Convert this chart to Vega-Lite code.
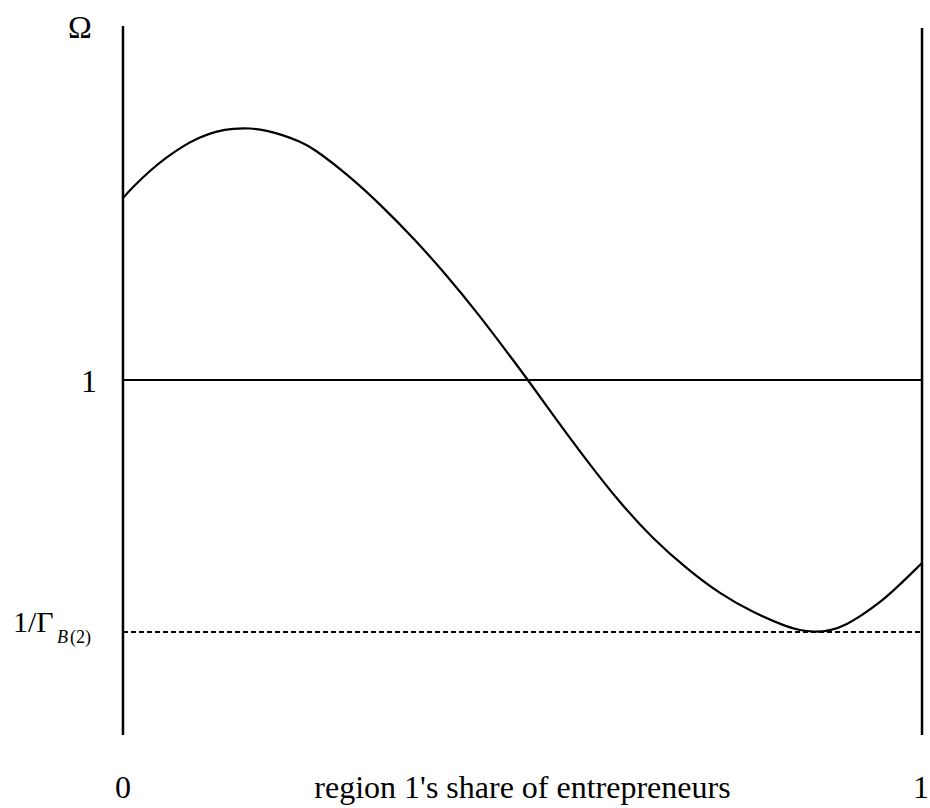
{
  "$schema": "https://vega.github.io/schema/vega-lite/v6.json",
  "width": 930,
  "height": 808,
  "padding": 0,
  "autosize": {"type": "none"},
  "background": "white",
  "config": {"view": {"stroke": null}},
  "datasets": {
    "curve": [
      {"share": 0.0, "omega": 1.28889},
      {"share": 0.01252, "omega": 1.30635},
      {"share": 0.03379, "omega": 1.33254},
      {"share": 0.05507, "omega": 1.35397},
      {"share": 0.07509, "omega": 1.37143},
      {"share": 0.09637, "omega": 1.38571},
      {"share": 0.11765, "omega": 1.39524},
      {"share": 0.13767, "omega": 1.39921},
      {"share": 0.15895, "omega": 1.4},
      {"share": 0.18023, "omega": 1.39603},
      {"share": 0.20025, "omega": 1.38889},
      {"share": 0.22153, "omega": 1.37857},
      {"share": 0.2378, "omega": 1.36825},
      {"share": 0.28035, "omega": 1.32698},
      {"share": 0.32165, "omega": 1.27937},
      {"share": 0.36295, "omega": 1.22619},
      {"share": 0.40551, "omega": 1.16587},
      {"share": 0.44681, "omega": 1.10159},
      {"share": 0.48811, "omega": 1.03175},
      {"share": 0.50688, "omega": 1.0},
      {"share": 0.53817, "omega": 0.94444},
      {"share": 0.58073, "omega": 0.87143},
      {"share": 0.62203, "omega": 0.80476},
      {"share": 0.66333, "omega": 0.74762},
      {"share": 0.70588, "omega": 0.7},
      {"share": 0.74718, "omega": 0.66032},
      {"share": 0.78849, "omega": 0.63095},
      {"share": 0.83104, "omega": 0.60794},
      {"share": 0.84731, "omega": 0.6027},
      {"share": 0.86358, "omega": 0.59985},
      {"share": 0.88486, "omega": 0.60159},
      {"share": 0.90613, "omega": 0.6119},
      {"share": 0.92616, "omega": 0.62778},
      {"share": 0.94743, "omega": 0.64683},
      {"share": 0.96871, "omega": 0.67063},
      {"share": 1.0, "omega": 0.70952}
    ],
    "verticals": [
      {"share": 0, "top": 1.5619, "bottom": 0.4365},
      {"share": 1, "top": 1.5587, "bottom": 0.4365}
    ],
    "levels": [
      {"name": "one", "start": 0, "end": 1, "omega": 1.0},
      {"name": "inverse gamma", "start": 0, "end": 1, "omega": 0.6}
    ],
    "labels": [
      {"text": "Ω", "share": -0.0538, "omega": 1.5429},
      {"text": "1", "share": -0.0426, "omega": 0.981},
      {"text": "0", "share": 0.0, "omega": 0.3365},
      {"text": "region 1's share of entrepreneurs", "share": 0.5, "omega": 0.3365},
      {"text": "1", "share": 0.9987, "omega": 0.3365}
    ],
    "gammalabel": [
      {"text": "1/Γ", "share": -0.1377, "omega": 0.6}
    ],
    "sublabelB": [
      {"text": "B", "share": -0.0826, "omega": 0.5825}
    ],
    "sublabel2": [
      {"text": "(2)", "share": -0.0663, "omega": 0.5825}
    ]
  },
  "layer": [
    {
      "data": {"name": "verticals"},
      "mark": {"type": "rule", "color": "black", "strokeWidth": 2.5},
      "encoding": {
        "x": {"field": "share", "type": "quantitative", "scale": {"domain": [-0.1539, 1.01], "nice": false, "zero": false}, "axis": null},
        "y": {"field": "top", "type": "quantitative", "scale": {"domain": [0.3206, 1.6032], "nice": false, "zero": false}, "axis": null},
        "y2": {"field": "bottom"}
      }
    },
    {
      "data": {"name": "levels"},
      "mark": {"type": "rule", "color": "black", "strokeWidth": 2},
      "encoding": {
        "x": {"field": "start", "type": "quantitative"},
        "x2": {"field": "end"},
        "y": {"field": "omega", "type": "quantitative"},
        "strokeDash": {
          "field": "name",
          "type": "nominal",
          "scale": {"domain": ["one", "inverse gamma"], "range": [[1, 0], [5, 3]]},
          "legend": null
        }
      }
    },
    {
      "data": {"name": "curve"},
      "mark": {"type": "line", "color": "black", "strokeWidth": 2.2, "interpolate": "basis"},
      "encoding": {
        "x": {"field": "share", "type": "quantitative"},
        "y": {"field": "omega", "type": "quantitative"}
      }
    },
    {
      "data": {"name": "labels"},
      "mark": {"type": "text", "font": "Liberation Serif", "fontSize": 32, "color": "black", "align": "center", "baseline": "alphabetic"},
      "encoding": {
        "x": {"field": "share", "type": "quantitative"},
        "y": {"field": "omega", "type": "quantitative"},
        "text": {"field": "text"}
      }
    },
    {
      "data": {"name": "gammalabel"},
      "mark": {"type": "text", "font": "Liberation Serif", "fontSize": 30, "color": "black", "align": "left", "baseline": "alphabetic"},
      "encoding": {
        "x": {"field": "share", "type": "quantitative"},
        "y": {"field": "omega", "type": "quantitative"},
        "text": {"field": "text"}
      }
    },
    {
      "data": {"name": "sublabelB"},
      "mark": {"type": "text", "font": "Liberation Serif", "fontSize": 18, "fontStyle": "italic", "color": "black", "align": "left", "baseline": "alphabetic"},
      "encoding": {
        "x": {"field": "share", "type": "quantitative"},
        "y": {"field": "omega", "type": "quantitative"},
        "text": {"field": "text"}
      }
    },
    {
      "data": {"name": "sublabel2"},
      "mark": {"type": "text", "font": "Liberation Serif", "fontSize": 18, "color": "black", "align": "left", "baseline": "alphabetic"},
      "encoding": {
        "x": {"field": "share", "type": "quantitative"},
        "y": {"field": "omega", "type": "quantitative"},
        "text": {"field": "text"}
      }
    }
  ]
}
